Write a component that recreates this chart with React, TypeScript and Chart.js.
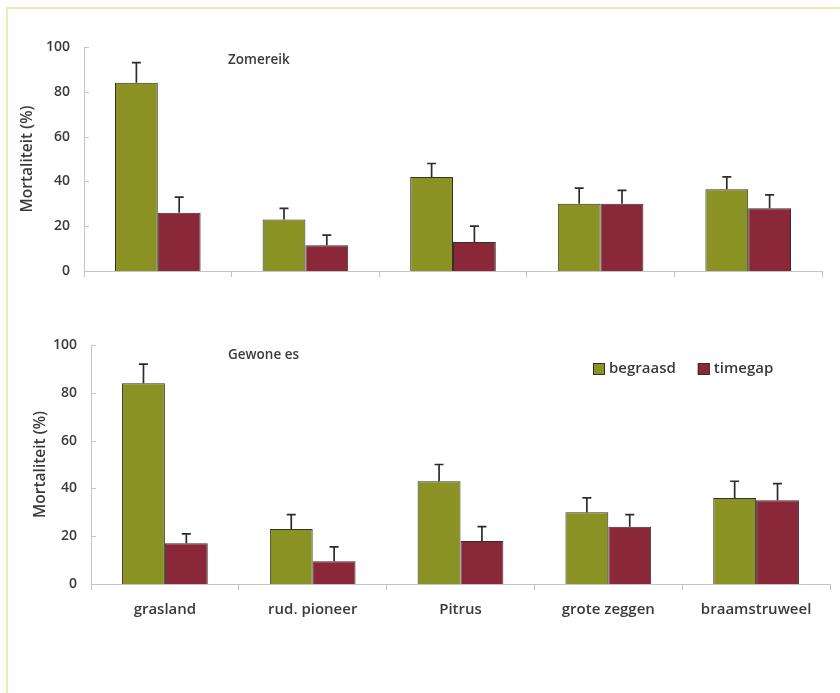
import React, { useEffect, useRef } from 'react';
import { Chart, registerables } from 'chart.js';

Chart.register(...registerables);

// Habitat categories along the x axis
const categories = ['grasland', 'rud. pioneer', 'Pitrus', 'grote zeggen', 'braamstruweel'];
const seriesNames = ['begraasd', 'timegap'];
const yTicks = [0, 20, 40, 60, 80, 100];

// Zomereik: mortality (%) and upper error
const zomereikBegraasd = [84, 23, 42, 30, 36.5];
const zomereikBegraasdErr = [9, 5, 6, 7, 5.5];
const zomereikTimegap = [26, 11.5, 13, 30, 28];
const zomereikTimegapErr = [7, 4.5, 7, 6, 6];

// Gewone es: mortality (%) and upper error
const gewoneEsBegraasd = [84, 23, 43, 30, 36];
const gewoneEsBegraasdErr = [8, 6, 7, 6, 7];
const gewoneEsTimegap = [17, 9.5, 18, 24, 35];
const gewoneEsTimegapErr = [4, 6, 6, 5, 7];

const GREEN = '#8a9224';
const RED = '#8a283a';
const EDGE = '#34302a';
const TEXT = '#3a3a3a';
const AXIS = '#c4c4c4';
const FONT = "'Open Sans', 'DejaVu Sans', sans-serif";

Chart.defaults.font.family = FONT;

// Upward error whiskers with a cap, placed through the value scale
const errorBars = {
  id: 'errorBars',
  afterDatasetsDraw(chart: any) {
    const ctx = chart.ctx;
    const yScale = chart.scales.y;
    chart.data.datasets.forEach((ds: any, i: number) => {
      const meta = chart.getDatasetMeta(i);
      const errs: number[] = ds.errors || [];
      meta.data.forEach((bar: any, j: number) => {
        const v = ds.data[j];
        const e = errs[j] || 0;
        const top = yScale.getPixelForValue(v + e);
        ctx.save();
        ctx.strokeStyle = '#2c2c2c';
        ctx.lineWidth = 1.7;
        ctx.beginPath();
        ctx.moveTo(bar.x, bar.y);
        ctx.lineTo(bar.x, top);
        ctx.moveTo(bar.x - 4.5, top);
        ctx.lineTo(bar.x + 4.5, top);
        ctx.stroke();
        ctx.restore();
      });
    });
  },
};

// Inward tick marks on the value axis, panel title and series key
const panelDecor = {
  id: 'panelDecor',
  afterDraw(chart: any, _args: any, opts: any) {
    const ctx = chart.ctx;
    const area = chart.chartArea;
    const yScale = chart.scales.y;
    ctx.save();
    ctx.strokeStyle = AXIS;
    ctx.lineWidth = 1;
    yScale.ticks.forEach((t: any) => {
      const py = Math.round(yScale.getPixelForValue(t.value)) + 0.5;
      ctx.beginPath();
      ctx.moveTo(area.left, py);
      ctx.lineTo(area.left + 5, py);
      ctx.stroke();
    });

    ctx.fillStyle = TEXT;
    ctx.textBaseline = 'middle';
    ctx.textAlign = 'left';
    if (opts.title) {
      ctx.font = `600 13.5px ${FONT}`;
      ctx.fillText(opts.title, area.left + opts.titleDx, area.top + opts.titleDy);
    }

    if (opts.legend) {
      ctx.font = `600 15px ${FONT}`;
      let x = area.left + opts.legendDx;
      const cy = area.top + opts.legendDy;
      chart.data.datasets.forEach((ds: any) => {
        ctx.fillStyle = ds.backgroundColor;
        ctx.fillRect(x, cy - 6, 12, 12);
        ctx.strokeStyle = EDGE;
        ctx.lineWidth = 1;
        ctx.strokeRect(x + 0.5, cy - 5.5, 11, 11);
        ctx.fillStyle = TEXT;
        ctx.fillText(ds.label, x + 16, cy);
        x += 16 + ctx.measureText(ds.label).width + 22;
      });
    }
    ctx.restore();
  },
};

type PanelProps = {
  top: number;
  height: number;
  padTop: number;
  padRight: number;
  axisWidth: number;
  xAxisHeight: number;
  titlePad: number;
  showLabels: boolean;
  begraasd: number[];
  begraasdErr: number[];
  timegap: number[];
  timegapErr: number[];
  decor: any;
};

function Panel(p: PanelProps) {
  const ref = useRef<HTMLCanvasElement | null>(null);

  useEffect(() => {
    if (!ref.current) return;
    const chart = new Chart(ref.current, {
      type: 'bar',
      data: {
        labels: categories,
        datasets: [
          {
            label: seriesNames[0],
            data: p.begraasd,
            errors: p.begraasdErr,
            backgroundColor: GREEN,
            borderColor: EDGE,
            borderWidth: 1,
            categoryPercentage: 0.58,
            barPercentage: 1,
          } as any,
          {
            label: seriesNames[1],
            data: p.timegap,
            errors: p.timegapErr,
            backgroundColor: RED,
            borderColor: EDGE,
            borderWidth: 1,
            categoryPercentage: 0.58,
            barPercentage: 1,
          } as any,
        ],
      },
      options: {
        responsive: false,
        animation: false,
        layout: { padding: { top: p.padTop, right: p.padRight, left: 0, bottom: 0 } },
        plugins: {
          legend: { display: false },
          tooltip: { enabled: false },
          panelDecor: p.decor,
        } as any,
        scales: {
          x: {
            grid: {
              display: true,
              offset: true,
              drawOnChartArea: false,
              drawTicks: true,
              tickLength: 6,
              color: AXIS,
            },
            border: { color: AXIS },
            ticks: {
              display: p.showLabels,
              color: TEXT,
              font: { size: 15, weight: '600' },
              padding: 11,
              maxRotation: 0,
            },
            afterFit: (s: any) => {
              s.height = p.xAxisHeight;
            },
          },
          y: {
            min: 0,
            max: 100,
            afterBuildTicks: (s: any) => {
              s.ticks = yTicks.map((v) => ({ value: v }));
            },
            grid: { display: false, drawTicks: false },
            border: { color: AXIS },
            ticks: { color: TEXT, font: { size: 14, weight: '600' }, padding: 14 },
            title: {
              display: true,
              text: 'Mortaliteit (%)',
              color: TEXT,
              font: { size: 15.5, weight: '600' },
              padding: { top: p.titlePad, bottom: 0 },
            },
            afterFit: (s: any) => {
              s.width = p.axisWidth;
            },
          },
        },
      },
      plugins: [errorBars, panelDecor],
    });
    return () => chart.destroy();
  }, []);

  return (
    <canvas
      ref={ref}
      width={840}
      height={p.height}
      style={{ position: 'absolute', left: 0, top: p.top, width: 840, height: p.height }}
    />
  );
}

export default function App() {
  return (
    <div
      style={{
        position: 'fixed',
        left: 0,
        top: 0,
        width: 840,
        height: 693,
        background: '#ffffff',
        overflow: 'hidden',
      }}
    >
      <div
        style={{
          position: 'absolute',
          left: 6,
          top: 7,
          width: 900,
          height: 800,
          borderTop: '2px solid #efe8b8',
          borderLeft: '2px solid #efe8b8',
        }}
      />
      <Panel
        top={0}
        height={300}
        padTop={47}
        padRight={18}
        axisWidth={84}
        xAxisHeight={29}
        titlePad={18}
        showLabels={false}
        begraasd={zomereikBegraasd}
        begraasdErr={zomereikBegraasdErr}
        timegap={zomereikTimegap}
        timegapErr={zomereikTimegapErr}
        decor={{ title: 'Zomereik', titleDx: 144, titleDy: 13, legend: false }}
      />
      <Panel
        top={300}
        height={393}
        padTop={45}
        padRight={10}
        axisWidth={91}
        xAxisHeight={109}
        titlePad={31}
        showLabels={true}
        begraasd={gewoneEsBegraasd}
        begraasdErr={gewoneEsBegraasdErr}
        timegap={gewoneEsTimegap}
        timegapErr={gewoneEsTimegapErr}
        decor={{ title: 'Gewone es', titleDx: 137, titleDy: 10, legend: true, legendDx: 502, legendDy: 24 }}
      />
    </div>
  );
}
